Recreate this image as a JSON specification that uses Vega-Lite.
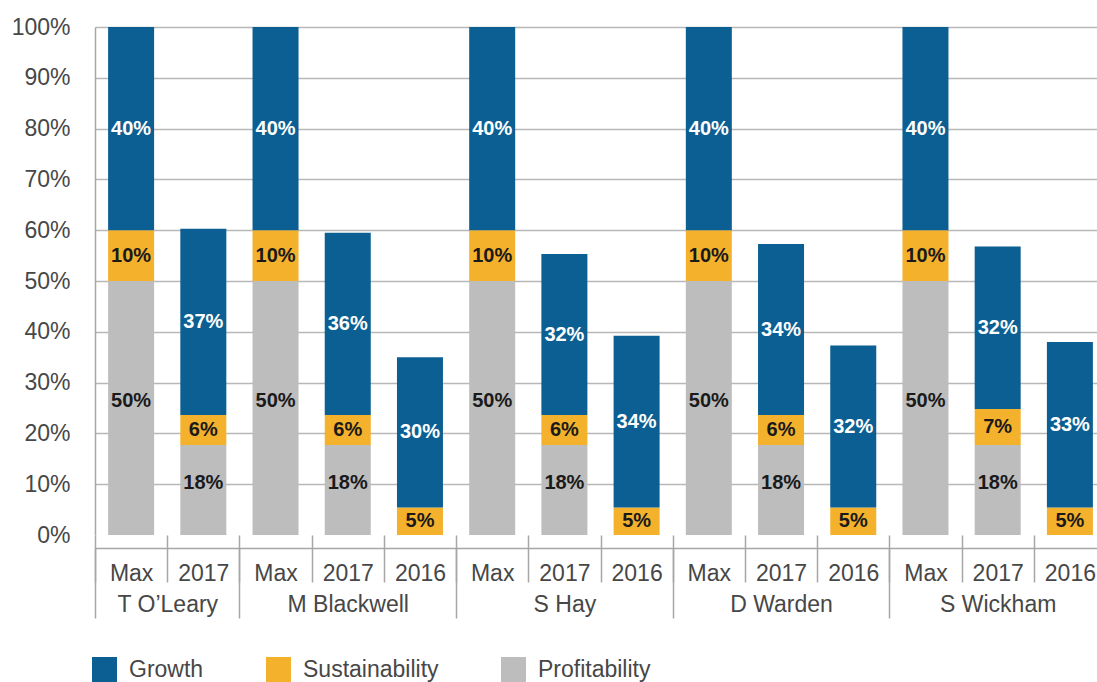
{
  "$schema": "https://vega.github.io/schema/vega-lite/v6.json",
  "width": 1011,
  "height": 508,
  "autosize": {"type": "none"},
  "padding": {"left": 95, "top": 27, "right": 0, "bottom": 147},
  "config": {
    "view": {"stroke": null},
    "font": "Liberation Sans",
    "axis": {"labelFont": "Liberation Sans", "labelFontSize": 23, "labelColor": "#474747", "title": null},
    "legend": {
      "orient": "none", "legendX": -3, "legendY": 630, "direction": "horizontal",
      "symbolType": "square", "symbolSize": 625, "symbolStrokeWidth": 0,
      "labelFontSize": 23, "labelColor": "#474747", "labelFont": "Liberation Sans",
      "labelOffset": 12, "columnPadding": 62, "padding": 0, "title": null
    }
  },
  "data": {
    "values": [
      {"person": "T O’Leary", "period": "Max", "cat": "Profitability", "value": 0.50},
      {"person": "T O’Leary", "period": "Max", "cat": "Sustainability", "value": 0.10},
      {"person": "T O’Leary", "period": "Max", "cat": "Growth", "value": 0.40},
      {"person": "T O’Leary", "period": "2017", "cat": "Profitability", "value": 0.177},
      {"person": "T O’Leary", "period": "2017", "cat": "Sustainability", "value": 0.059},
      {"person": "T O’Leary", "period": "2017", "cat": "Growth", "value": 0.367},
      {"person": "M Blackwell", "period": "Max", "cat": "Profitability", "value": 0.50},
      {"person": "M Blackwell", "period": "Max", "cat": "Sustainability", "value": 0.10},
      {"person": "M Blackwell", "period": "Max", "cat": "Growth", "value": 0.40},
      {"person": "M Blackwell", "period": "2017", "cat": "Profitability", "value": 0.177},
      {"person": "M Blackwell", "period": "2017", "cat": "Sustainability", "value": 0.059},
      {"person": "M Blackwell", "period": "2017", "cat": "Growth", "value": 0.359},
      {"person": "M Blackwell", "period": "2016", "cat": "Sustainability", "value": 0.054},
      {"person": "M Blackwell", "period": "2016", "cat": "Growth", "value": 0.296},
      {"person": "S Hay", "period": "Max", "cat": "Profitability", "value": 0.50},
      {"person": "S Hay", "period": "Max", "cat": "Sustainability", "value": 0.10},
      {"person": "S Hay", "period": "Max", "cat": "Growth", "value": 0.40},
      {"person": "S Hay", "period": "2017", "cat": "Profitability", "value": 0.177},
      {"person": "S Hay", "period": "2017", "cat": "Sustainability", "value": 0.059},
      {"person": "S Hay", "period": "2017", "cat": "Growth", "value": 0.317},
      {"person": "S Hay", "period": "2016", "cat": "Sustainability", "value": 0.054},
      {"person": "S Hay", "period": "2016", "cat": "Growth", "value": 0.338},
      {"person": "D Warden", "period": "Max", "cat": "Profitability", "value": 0.50},
      {"person": "D Warden", "period": "Max", "cat": "Sustainability", "value": 0.10},
      {"person": "D Warden", "period": "Max", "cat": "Growth", "value": 0.40},
      {"person": "D Warden", "period": "2017", "cat": "Profitability", "value": 0.177},
      {"person": "D Warden", "period": "2017", "cat": "Sustainability", "value": 0.059},
      {"person": "D Warden", "period": "2017", "cat": "Growth", "value": 0.337},
      {"person": "D Warden", "period": "2016", "cat": "Sustainability", "value": 0.054},
      {"person": "D Warden", "period": "2016", "cat": "Growth", "value": 0.319},
      {"person": "S Wickham", "period": "Max", "cat": "Profitability", "value": 0.50},
      {"person": "S Wickham", "period": "Max", "cat": "Sustainability", "value": 0.10},
      {"person": "S Wickham", "period": "Max", "cat": "Growth", "value": 0.40},
      {"person": "S Wickham", "period": "2017", "cat": "Profitability", "value": 0.177},
      {"person": "S Wickham", "period": "2017", "cat": "Sustainability", "value": 0.071},
      {"person": "S Wickham", "period": "2017", "cat": "Growth", "value": 0.320},
      {"person": "S Wickham", "period": "2016", "cat": "Sustainability", "value": 0.054},
      {"person": "S Wickham", "period": "2016", "cat": "Growth", "value": 0.326}
    ]
  },
  "transform": [
    {"calculate": "datum.person + '|' + datum.period", "as": "key"},
    {"calculate": "indexof(['Profitability','Sustainability','Growth'], datum.cat)", "as": "rank"},
    {"stack": "value", "groupby": ["key"], "sort": [{"field": "rank", "order": "ascending"}], "as": ["v0", "v1"]},
    {"calculate": "(datum.v0 + datum.v1) / 2", "as": "mid"}
  ],
  "layer": [
    {
      "mark": {"type": "bar", "width": {"band": 0.637}},
      "encoding": {
        "x": {
          "field": "key", "type": "nominal", "sort": null,
          "scale": {"paddingInner": 0, "paddingOuter": 0},
          "axis": {
            "orient": "bottom", "title": null, "domain": false, "grid": false, "tickBand": "extent", "tickSize": 47,
            "tickColor": "#a6a6a6", "tickWidth": 1.5,
            "labelExpr": "isString(datum.value) ? split(datum.value, '|')[1] : ''", "labelAngle": 0, "labelOverlap": false,
            "labelBaseline": "alphabetic", "labelPadding": -2
          }
        },
        "y": {
          "field": "v0", "type": "quantitative", "stack": null,
          "scale": {"domain": [0, 1]},
          "axis": {
            "orient": "left", "title": null, "format": ".0%", "values": [0, 0.1, 0.2, 0.3, 0.4, 0.5, 0.6, 0.7, 0.8, 0.9, 1],
            "ticks": false, "labelPadding": 25, "domainColor": "#a6a6a6", "domainWidth": 1.5,
            "gridColor": "#b8b8b8", "gridWidth": 1.5,
            "gridOpacity": {"condition": {"test": "datum.value === 0", "value": 0}, "value": 1},
            "labelBaseline": "middle"
          }
        },
        "y2": {"field": "v1"},
        "color": {
          "field": "cat", "type": "nominal",
          "scale": {"domain": ["Growth", "Sustainability", "Profitability"], "range": ["#0b5f92", "#f4b12c", "#bdbdbd"]},
          "legend": {"title": null}
        }
      }
    },
    {
      "mark": {"type": "text", "font": "Liberation Sans", "fontWeight": "bold", "fontSize": 20, "baseline": "middle",
        "dy": {"expr": "datum.cat === 'Profitability' ? -7 : 0"}},
      "encoding": {
        "x": {
          "field": "key", "type": "nominal", "sort": null,
          "scale": {"paddingInner": 0, "paddingOuter": 0},
          "axis": {
            "orient": "bottom", "title": null, "offset": 13, "domain": true, "domainColor": "#a6a6a6", "domainWidth": 1.5,
            "grid": false, "tickBand": "extent", "tickSize": 70, "tickColor": "#a6a6a6", "tickWidth": 1.5,
            "tickOpacity": {"condition": {"test": "!isString(datum.value) || indexof(datum.value, '|2016') > 0 || datum.value === 'T O’Leary|2017'", "value": 1}, "value": 0},
            "labelExpr": "isString(datum.value) && split(datum.value, '|')[1] == '2017' ? split(datum.value, '|')[0] : ''",
            "labelOffset": {"condition": {"test": "datum.value === 'T O’Leary|2017'", "value": -36}, "value": 0},
            "labelAngle": 0, "labelOverlap": false, "labelBaseline": "alphabetic", "labelPadding": -7
          }
        },
        "y": {
          "field": "mid", "type": "quantitative", "stack": null,
          "scale": {"domain": [0, 1]},
          "axis": {
            "orient": "left", "title": null, "format": ".0%", "values": [0, 0.1, 0.2, 0.3, 0.4, 0.5, 0.6, 0.7, 0.8, 0.9, 1],
            "ticks": false, "labelPadding": 25, "domainColor": "#a6a6a6", "domainWidth": 1.5,
            "gridColor": "#b8b8b8", "gridWidth": 1.5,
            "gridOpacity": {"condition": {"test": "datum.value === 0", "value": 0}, "value": 1},
            "labelBaseline": "middle"
          }
        },
        "text": {"field": "value", "type": "quantitative", "format": ".0%"},
        "color": {"condition": {"test": "datum.cat === 'Growth'", "value": "#ffffff"}, "value": "#1a1a1a"}
      }
    }
  ],
  "resolve": {"axis": {"x": "independent"}}
}
